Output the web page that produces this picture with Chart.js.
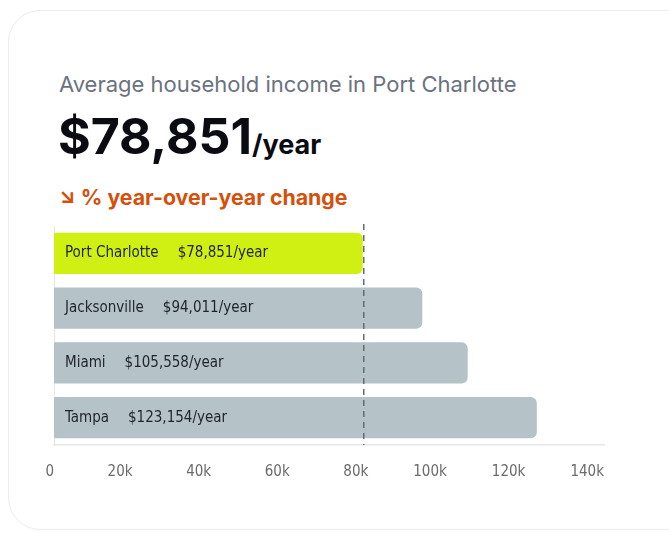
<!DOCTYPE html>
<html>
<head>
<meta charset="utf-8">
<script src="https://cdn.jsdelivr.net/npm/chart.js@4"></script>
<style>
  html, body { margin: 0; padding: 0; background: #fff; }
  body { width: 669px; height: 533px; position: relative; overflow: hidden; font-family: Inter, "Noto Sans", sans-serif; }
  .card {
    position: absolute; left: 8px; top: 10px; width: 690px; height: 520px;
    border: 1.5px solid #ececec; border-radius: 32px; background: #fff; box-sizing: border-box;
  }
  .subtitle { position: absolute; left: 59px; top: 71px; font-size: 22px; color: #6b7280; white-space: nowrap; }
  .big { position: absolute; left: 58px; top: 106px; font-size: 50px; font-weight: 700; color: #0b0b12; white-space: nowrap; }
  .big span { font-size: 27px; }
  .change { position: absolute; left: 59px; top: 184px; font-size: 21.3px; font-weight: 700; color: #d4500c; white-space: nowrap; }
  .chart-box { position: absolute; left: 40px; top: 220px; width: 580px; height: 270px; }
</style>
</head>
<body>
<div class="card"></div>
<div class="subtitle">Average household income in Port Charlotte</div>
<div class="big">$78,851<span>/year</span></div>
<div class="change">↘ % year-over-year change</div>
<div class="chart-box"><canvas id="incomeChart"></canvas></div>
<script>
const cities = ['Port Charlotte', 'Jacksonville', 'Miami', 'Tampa'];
const incomes = [78851, 94011, 105558, 123154];
const barColors = ['#d0f014', '#b5c3c8', '#b5c3c8', '#b5c3c8'];
const xTicks = [0, 20000, 40000, 60000, 80000, 100000, 120000, 140000];
const reference = 78851;

const narrow = '"Liberation Sans Narrow", "DejaVu Sans Condensed", Roboto, sans-serif';

function formatIncome(v) {
    return '$' + v.toLocaleString('en-US') + '/year';
}

// labels inside the bars and the dashed reference line
const barText = {
    id: 'barText',
    afterDatasetsDraw(chart) {
        const ctx = chart.ctx;
        const x = chart.scales.x;
        const area = chart.chartArea;
        const meta = chart.getDatasetMeta(0);

        ctx.save();
        const lx = x.getPixelForValue(reference);
        ctx.strokeStyle = '#646b76';
        ctx.lineWidth = 1.5;
        ctx.setLineDash([6, 5]);
        ctx.beginPath();
        ctx.moveTo(lx, area.top - 2);
        ctx.lineTo(lx, area.bottom);
        ctx.stroke();
        ctx.setLineDash([]);

        ctx.font = '15px ' + narrow;
        ctx.fillStyle = '#1f2328';
        ctx.textBaseline = 'middle';
        meta.data.forEach((bar, i) => {
            const left = x.getPixelForValue(0) + 11;
            ctx.fillText(cities[i], left, bar.y);
            const w = ctx.measureText(cities[i]).width;
            ctx.fillText(formatIncome(incomes[i]), left + w + 19, bar.y);
        });
        ctx.restore();
    }
};

const ctx = document.getElementById('incomeChart').getContext('2d');
const chart = new Chart(ctx, {
    type: 'bar',
    data: {
        labels: cities,
        datasets: [{
            data: incomes,
            backgroundColor: barColors,
            borderColor: '#ffffff',
            borderWidth: 1,
            borderSkipped: 'start',
            borderRadius: { topRight: 7, bottomRight: 7 },
            barPercentage: 0.86,
            categoryPercentage: 0.92
        }]
    },
    options: {
        indexAxis: 'y',
        responsive: true,
        maintainAspectRatio: false,
        animation: false,
        layout: { padding: { left: 13, right: 16, top: 6, bottom: 0 } },
        plugins: {
            legend: { display: false },
            tooltip: { enabled: false }
        },
        scales: {
            x: {
                min: 0,
                max: 140000,
                afterBuildTicks: axis => { axis.ticks = xTicks.map(v => ({ value: v })); },
                afterFit: axis => {
                    axis.height = 45;
                    axis.paddingLeft = 0;
                    axis.paddingRight = 0;
                },
                grid: { display: false, drawTicks: false },
                border: { display: true, color: '#e5e5e5', width: 1.5 },
                ticks: {
                    align: 'end',
                    padding: 18,
                    color: '#6b6b6b',
                    font: { family: narrow, size: 15 },
                    callback: v => v === 0 ? '0' : (v / 1000) + 'k'
                }
            },
            y: {
                afterFit: axis => {
                    axis.width = 1;
                    axis.paddingTop = 0;
                    axis.paddingBottom = 0;
                },
                grid: { display: false, drawTicks: false },
                border: { display: true, color: '#e5e5e5', width: 1 },
                ticks: { display: false }
            }
        }
    },
    plugins: [barText]
});
</script>
</body>
</html>
